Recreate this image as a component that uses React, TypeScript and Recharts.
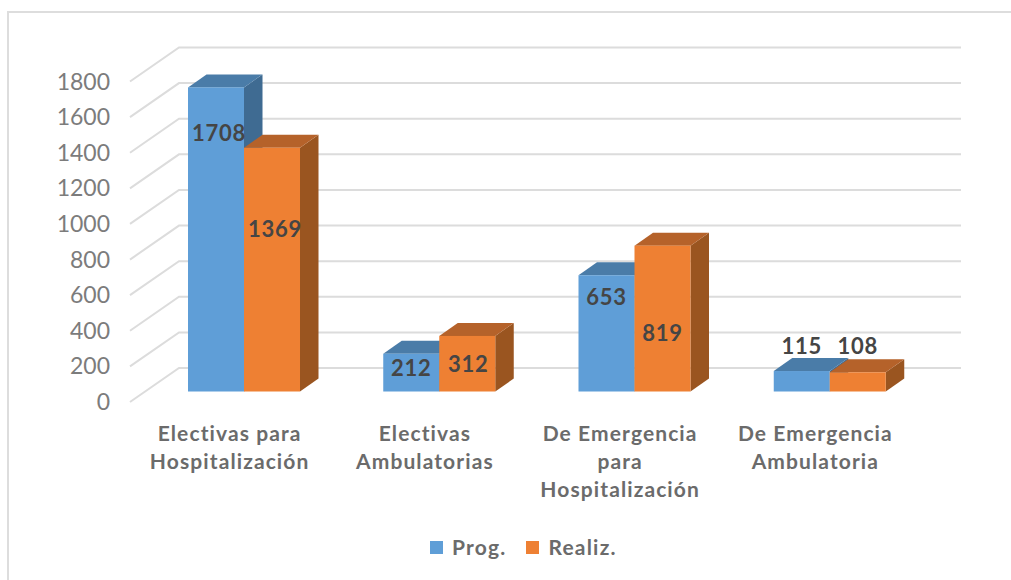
import React from "react";
import { BarChart, Bar, XAxis, YAxis, CartesianGrid, LabelList, Legend } from "recharts";

const categories = [
  ["Electivas para", "Hospitalización"],
  ["Electivas", "Ambulatorias"],
  ["De Emergencia", "para", "Hospitalización"],
  ["De Emergencia", "Ambulatoria"],
];
const prog = [1708, 212, 653, 115];
const realiz = [1369, 312, 819, 108];
const yTicks = [0, 200, 400, 600, 800, 1000, 1200, 1400, 1600, 1800];

const blue = { front: "#5F9ED7", side: "#3F6B92", top: "#4A7CA8" };
const orange = { front: "#EE8033", side: "#9A5520", top: "#B5622A" };
const DX = 18.5;
const DY = -13;
const FONT = "Lato, 'Open Sans', sans-serif";

// label placement relative to the bar's top-centre (manually placed in the original)
const progLabelShift = [[3, 45], [-0, 14], [0, 21], [0, -26]];
const realizLabelShift = [[3, 81], [1, 28], [0, 87], [0, -27]];

const data = categories.map((c, i) => ({ name: c.join("|"), prog: prog[i], realiz: realiz[i] }));

function Bar3D(colors: typeof blue) {
  return (p: any) => {
    const { x, y, width: w, height: h } = p;
    return (
      <g>
        <polygon points={`${x + w},${y} ${x + w + DX},${y + DY} ${x + w + DX},${y + h + DY} ${x + w},${y + h}`} fill={colors.side} />
        <polygon points={`${x},${y} ${x + DX},${y + DY} ${x + w + DX},${y + DY} ${x + w},${y}`} fill={colors.top} />
        <rect x={x} y={y} width={w} height={h} fill={colors.front} />
      </g>
    );
  };
}

const gridLine = (p: any) => {
  const y = p.y1;
  return (
    <path
      key={p.key ?? y}
      d={`M130 ${y + 10.5} L179 ${y - 23.5} L961 ${y - 23.5}`}
      fill="none"
      stroke="#dcdcdc"
      strokeWidth={2}
    />
  );
};

const YTick = (p: any) => (
  <text x={110} y={p.y + 9.5} textAnchor="end" dominantBaseline="central" fontFamily={FONT} fontSize={23} fill="#7c7c7c">
    {p.payload.value}
  </text>
);

const XTick = (p: any) => {
  const lines = String(p.payload.value).split("|");
  return (
    <g>
      {lines.map((l: string, i: number) => (
        <text key={i} x={p.x - 14} y={432 + i * 28} textAnchor="middle" dominantBaseline="central" fontFamily={FONT} fontWeight={700} fontSize={21} letterSpacing={1.1} fill="#6b6b6b">
          {l}
        </text>
      ))}
    </g>
  );
};

const makeLabel = (shift: number[][]) => (p: any) => {
  const { x, y, width, value, index } = p;
  const [sx, sy] = shift[index];
  return (
    <text x={x + width / 2 + sx} y={y + sy} textAnchor="middle" dominantBaseline="central" fontFamily={FONT} fontWeight={700} fontSize={22} letterSpacing={0.7} fill="#454545">
      {value}
    </text>
  );
};

const LegendContent = (p: any) => (
  <div style={{ display: "flex", fontFamily: FONT, fontWeight: 700, fontSize: 21, letterSpacing: 1.2, color: "#6b6b6b", lineHeight: "22px" }}>
    {(p.payload ?? []).map((e: any, i: number) => (
      <div key={i} style={{ display: "flex", alignItems: "center", marginRight: 20 }}>
        <span style={{ width: 13, height: 13, background: e.color, display: "inline-block", marginRight: 9 }} />
        {e.value}
      </div>
    ))}
  </div>
);

export default function App() {
  return (
    <div style={{ position: "absolute", left: 0, top: 0, width: 1011, height: 580, background: "#fff", overflow: "hidden" }}>
      <div style={{ position: "absolute", left: 7, top: 11, width: 1004, height: 569, borderTop: "2px solid #dddddd", borderLeft: "2px solid #dddddd" }} />
      <BarChart
        width={1011}
        height={580}
        data={data}
        margin={{ top: 71, right: 84, bottom: 0, left: 0 }}
        barGap={0}
        barSize={56}
        style={{ position: "absolute", left: 0, top: 0 }}
      >
        <CartesianGrid vertical={false} horizontal={gridLine} />
        <YAxis width={146} domain={[0, 1800]} ticks={yTicks} interval={0} axisLine={false} tickLine={false} tick={YTick} />
        <XAxis dataKey="name" height={188.5} interval={0} axisLine={false} tickLine={false} tick={XTick} />
        <Legend
          layout="horizontal"
          verticalAlign="middle"
          align="center"
          content={LegendContent}
          wrapperStyle={{ position: "absolute", left: 430, top: 536, width: 300, height: 22 }}
        />
        <Bar dataKey="prog" name="Prog." fill={blue.front} shape={Bar3D(blue)} isAnimationActive={false}>
          <LabelList dataKey="prog" content={makeLabel(progLabelShift)} />
        </Bar>
        <Bar dataKey="realiz" name="Realiz." fill={orange.front} shape={Bar3D(orange)} isAnimationActive={false}>
          <LabelList dataKey="realiz" content={makeLabel(realizLabelShift)} />
        </Bar>
      </BarChart>
    </div>
  );
}
